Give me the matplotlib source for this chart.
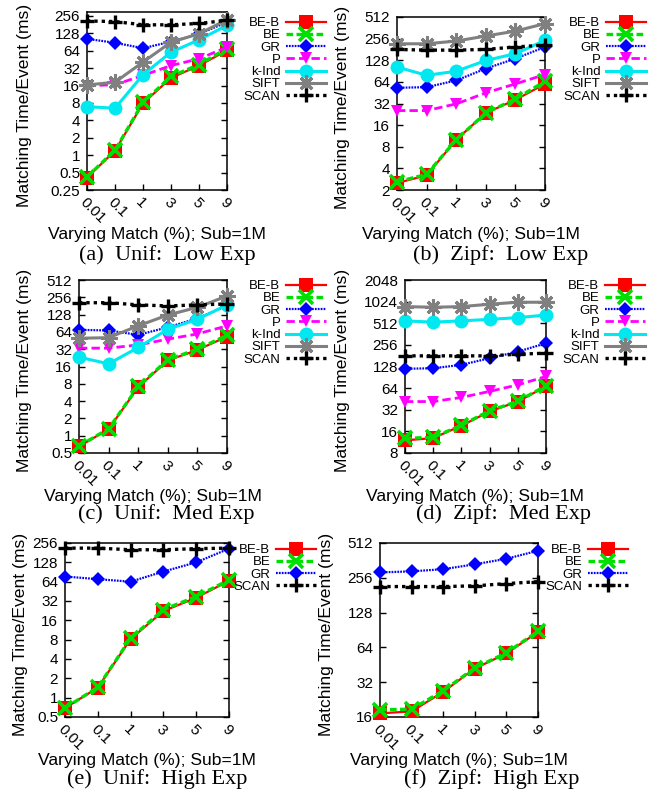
import matplotlib
matplotlib.use("Agg")
import matplotlib.pyplot as plt

# x categories (equally spaced in the chart)
match_labels = ["0.01", "0.1", "1", "3", "5", "9"]

# (a) Unif: Low Exp
a_beb = [0.41, 1.19, 7.9, 21.7, 35.5, 65]
a_be = [0.42, 1.22, 8.2, 23, 37, 70]
a_gr = [103, 88, 71, 92, 125, 200]
a_p = [16, 16.5, 24, 35.5, 46.5, 74]
a_kind = [6.9, 6.5, 24.6, 60.5, 99, 176]
a_sift = [16.4, 18.3, 40.8, 90, 126, 221]
a_scan = [210, 205, 180, 180, 190, 215]

# (b) Zipf: Low Exp
b_beb = [2.5, 3.2, 10, 23.6, 36, 60]
b_be = [2.6, 3.3, 10, 23.6, 37, 65]
b_gr = [53, 54, 67, 98, 135, 196]
b_p = [25.5, 25.5, 31.6, 45, 60, 81]
b_kind = [103, 79, 90, 127, 158, 242]
b_sift = [217, 217, 237, 278, 326, 414]
b_scan = [181, 177, 177, 181, 196, 208]

# (c) Unif: Med Exp
c_beb = [0.65, 1.3, 7.0, 20.4, 31, 53]
c_be = [0.66, 1.32, 7.2, 21, 32, 56]
c_gr = [69.6, 67.7, 56.9, 77, 110, 181]
c_p = [33.4, 33.4, 38, 47.8, 59, 81.6]
c_kind = [23.3, 17.8, 34.3, 71, 106, 189]
c_sift = [49.6, 50.8, 81.6, 126, 171, 270]
c_scan = [206, 206, 189, 181, 189, 196]

# (d) Zipf: Med Exp
d_beb = [12, 12.9, 19.2, 30.3, 41.6, 67.6]
d_be = [12.8, 13.2, 19.5, 31, 42, 69]
d_gr = [119, 121, 135, 167, 206, 270]
d_p = [41.6, 41.6, 47.5, 57.6, 71, 93]
d_kind = [553, 530, 553, 580, 613, 666]
d_sift = [873, 855, 873, 943, 1004, 1004]
d_scan = [180, 180, 180, 180, 190, 196]

# (e) Unif: High Exp
e_beb = [0.69, 1.43, 8.2, 22.3, 36, 66]
e_be = [0.69, 1.45, 8.4, 23.5, 37.5, 68]
e_gr = [77, 70, 64, 92, 128, 209]
e_scan = [213, 213, 201, 201, 209, 213]

# (f) Zipf: High Exp
f_beb = [17.2, 17.9, 26.4, 42, 56.8, 87]
f_be = [18.5, 18.7, 27, 42.5, 57.5, 88]
f_gr = [285, 291, 304, 335, 374, 439]
f_scan = [215, 215, 215, 218, 228, 237]

W, H = 657, 796
SANS = ["Liberation Sans", "DejaVu Sans"]
SERIF = ["Liberation Serif", "DejaVu Serif"]
plt.rcParams["font.family"] = SANS

# series styles (gnuplot look)
styles = {
    "BE-B": dict(color="#ff0000", ls="-", lw=1.6, marker="s", ms=10, mew=0),
    "BE": dict(color="#00e000", ls=(0, (2, 1)), lw=2.4, marker="x", ms=9.5, mew=2.6),
    "GR": dict(color="#0000ff", ls=(0, (0.8, 0.5)), lw=1.6, marker="D", ms=6.8, mew=0),
    "P": dict(color="#ff00ff", ls=(0, (3, 1.5)), lw=2.0, marker="v", ms=9, mew=0),
    "k-Ind": dict(color="#00e8f0", ls="-", lw=2.2, marker="o", ms=10, mew=0),
    "SIFT": dict(color="#808080", ls="-", lw=2.2, marker=(8, 2, 0), ms=11.5, mew=2.2),
    "SCAN": dict(color="#000000", ls=(0, (1, 1.2)), lw=2.4, marker="+", ms=10.5, mew=2.4),
}


def box(l, r, t, b):
    return [l / W, 1 - b / H, (r - l) / W, (b - t) / H]


def ticklabel(v):
    return "%g" % v


fig = plt.figure(figsize=(W / 100, H / 100), dpi=100)

panels = [
    dict(rect=(87, 227, 12, 190), ylim=(0.25, 300),
         yt=[0.25, 0.5, 1, 2, 4, 8, 16, 32, 64, 128, 256],
         series=[("BE-B", a_beb), ("BE", a_be), ("GR", a_gr), ("P", a_p),
                 ("k-Ind", a_kind), ("SIFT", a_sift), ("SCAN", a_scan)],
         leg=(326, 17), ylx=25, xl=(157, 234), cap=(167, 255, "(a)  Unif:  Low Exp")),
    dict(rect=(397, 545, 17, 190), ylim=(2, 512),
         yt=[2, 4, 8, 16, 32, 64, 128, 256, 512],
         series=[("BE-B", b_beb), ("BE", b_be), ("GR", b_gr), ("P", b_p),
                 ("k-Ind", b_kind), ("SIFT", b_sift), ("SCAN", b_scan)],
         leg=(646, 17), ylx=342, xl=(471, 234), cap=(501, 255, "(b)  Zipf:  Low Exp")),
    dict(rect=(79, 227, 280, 453), ylim=(0.5, 512),
         yt=[0.5, 1, 2, 4, 8, 16, 32, 64, 128, 256, 512],
         series=[("BE-B", c_beb), ("BE", c_be), ("GR", c_gr), ("P", c_p),
                 ("k-Ind", c_kind), ("SIFT", c_sift), ("SCAN", c_scan)],
         leg=(326, 280), ylx=25, xl=(153, 497), cap=(166, 514, "(c)  Unif:  Med Exp")),
    dict(rect=(405, 546, 280, 453), ylim=(8, 2048),
         yt=[8, 16, 32, 64, 128, 256, 512, 1024, 2048],
         series=[("BE-B", d_beb), ("BE", d_be), ("GR", d_gr), ("P", d_p),
                 ("k-Ind", d_kind), ("SIFT", d_sift), ("SCAN", d_scan)],
         leg=(645, 280), ylx=342, xl=(475, 497), cap=(504, 514, "(d)  Zipf:  Med Exp")),
    dict(rect=(65, 229, 543, 717), ylim=(0.5, 256),
         yt=[0.5, 1, 2, 4, 8, 16, 32, 64, 128, 256],
         series=[("BE-B", e_beb), ("BE", e_be), ("GR", e_gr), ("SCAN", e_scan)],
         leg=(316, 544), ylx=21, xl=(147, 760), cap=(157, 779, "(e)  Unif:  High Exp")),
    dict(rect=(380, 538, 543, 717), ylim=(16, 512),
         yt=[16, 32, 64, 128, 256, 512],
         series=[("BE-B", f_beb), ("BE", f_be), ("GR", f_gr), ("SCAN", f_scan)],
         leg=(628, 544), ylx=327, xl=(459, 760), cap=(492, 779, "(f)  Zipf:  High Exp")),
]

for p in panels:
    l, r, t, b = p["rect"]
    ax = fig.add_axes(box(l, r, t, b))
    x = list(range(len(match_labels)))
    for name, vals in p["series"]:
        st = styles[name]
        ax.plot(x, vals, label=name, color=st["color"], linestyle=st["ls"],
                linewidth=st["lw"], marker=st["marker"], markersize=st["ms"],
                markeredgewidth=st["mew"], markeredgecolor=st["color"],
                clip_on=False, zorder=3)
    ax.set_yscale("log")
    ax.set_ylim(*p["ylim"])
    ax.set_xlim(0, 5)
    ax.set_yticks(p["yt"])
    ax.set_yticklabels([ticklabel(v) for v in p["yt"]])
    ax.minorticks_off()
    ax.set_xticks(x)
    ax.set_xticklabels(match_labels, rotation=-45, ha="left", va="top",
                       rotation_mode="anchor")
    ax.tick_params(direction="in", length=4.5, width=1.0, labelsize=11,
                   right=True, pad=5)
    ax.tick_params(axis="x", pad=4)
    for s in ax.spines.values():
        s.set_linewidth(1.1)

    # axis titles and caption
    fig.text(p["ylx"] / W, 1 - ((t + b) / 2 + 4) / H, "Matching Time/Event (ms)",
             rotation=90, ha="center", va="center", fontsize=12.6)
    fig.text(p["xl"][0] / W, 1 - p["xl"][1] / H, "Varying Match (%); Sub=1M",
             ha="center", va="center", fontsize=12.6)
    fig.text(p["cap"][0] / W, 1 - p["cap"][1] / H, p["cap"][2],
             ha="center", va="center", fontsize=16, family=SERIF)

    leg = ax.legend(loc="upper right",
                    bbox_to_anchor=(p["leg"][0] / W, 1 - p["leg"][1] / H),
                    bbox_transform=fig.transFigure, frameon=False,
                    markerfirst=False, fontsize=9.5, handlelength=3.0,
                    handletextpad=0.45, labelspacing=0.0, borderpad=0,
                    borderaxespad=0, numpoints=1)

fig.savefig("out.png", dpi=100)
